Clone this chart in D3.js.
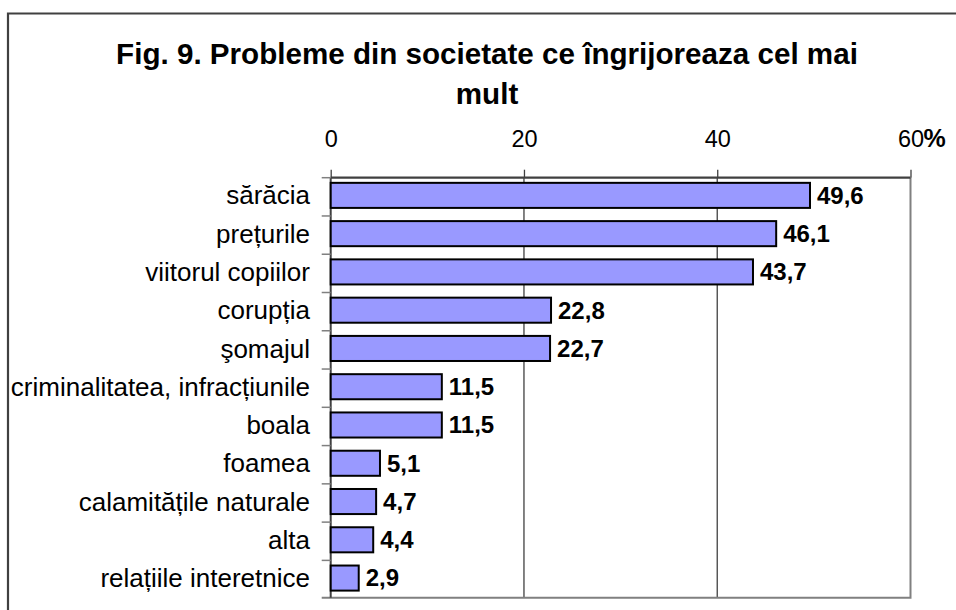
<!DOCTYPE html>
<html lang="ro">
<head>
<meta charset="UTF-8" />
<title>Fig. 9</title>
<script src="https://d3js.org/d3.v7.min.js"></script>
<style>
  body { margin: 0; background: #fff; }
  svg text { font-family: Arial, "Liberation Sans", sans-serif; }
</style>
</head>
<body>
<script>
var w = 956;
var h = 610;

var categories = ["sărăcia", "prețurile", "viitorul copiilor", "corupția", "şomajul",
  "criminalitatea, infracțiunile", "boala", "foamea", "calamitățile naturale", "alta",
  "relațiile interetnice"];
var values = [49.6, 46.1, 43.7, 22.8, 22.7, 11.5, 11.5, 5.1, 4.7, 4.4, 2.9];
var tickValues = [0, 20, 40, 60];
var titleLines = ["Fig. 9. Probleme din societate ce îngrijoreaza cel mai", "mult"];

// plot area edges
var plotLeft = 330.7, plotRight = 910.5, plotTop = 177.7, plotBottom = 597.7;

var svg = d3.select("body").append("svg")
  .attr("width", w)
  .attr("height", h);

// outer chart border (runs off right and bottom)
svg.append("path")
  .attr("d", "M8,620 L8,13.5 L970,13.5")
  .attr("fill", "none")
  .attr("stroke", "#404040")
  .attr("stroke-width", 2.2);

// title
svg.selectAll("text.title")
  .data(titleLines)
  .enter()
  .append("text")
  .attr("class", "title")
  .attr("x", 487)
  .attr("y", function (d, i) { return 63.5 + i * 40; })
  .attr("text-anchor", "middle")
  .attr("font-size", "29.6px")
  .attr("font-weight", "bold")
  .attr("fill", "#000")
  .text(function (d) { return d; });

var xScale = d3.scaleLinear()
  .domain([0, 60])
  .range([plotLeft, plotRight]);

var yScale = d3.scaleBand()
  .domain(categories)
  .range([plotTop, plotBottom])
  .paddingInner(0.345)
  .paddingOuter(0.16)
  .align(0.42);

// vertical gridlines at 20, 40
svg.selectAll("line.grid")
  .data(tickValues.slice(1, 3))
  .enter()
  .append("line")
  .attr("class", "grid")
  .attr("x1", function (d) { return xScale(d); })
  .attr("x2", function (d) { return xScale(d); })
  .attr("y1", plotTop)
  .attr("y2", plotBottom)
  .attr("stroke", "#404040")
  .attr("stroke-width", 1.3);

// plot area right/bottom border
svg.append("path")
  .attr("d", "M" + (plotLeft - 9) + "," + plotBottom + " L" + plotRight + "," + plotBottom + " L" + plotRight + "," + plotTop)
  .attr("fill", "none")
  .attr("stroke", "#808080")
  .attr("stroke-width", 2);

// top value axis
var xAxis = d3.axisTop(xScale)
  .tickValues(tickValues)
  .tickSize(8)
  .tickPadding(23)
  .tickFormat(d3.format("d"));

var gx = svg.append("g")
  .attr("transform", "translate(0," + plotTop + ")")
  .call(xAxis);
gx.select(".domain").attr("stroke", "#404040").attr("stroke-width", 2.2)
  .attr("d", "M" + plotLeft + ",0H" + plotRight);
gx.selectAll(".tick line").attr("stroke", "#404040").attr("stroke-width", 1.3);
gx.selectAll(".tick text")
  .attr("font-size", "23.5px")
  .attr("font-family", "Arial, 'Liberation Sans', sans-serif")
  .attr("fill", "#000");

svg.append("text")
  .attr("x", xScale(60) + 13)
  .attr("y", 146.5)
  .attr("font-size", "25px")
  .attr("font-weight", "bold")
  .attr("fill", "#000")
  .text("%");

// left category axis
svg.append("line")
  .attr("x1", plotLeft).attr("x2", plotLeft)
  .attr("y1", plotTop).attr("y2", plotBottom)
  .attr("stroke", "#404040")
  .attr("stroke-width", 2);

var step = yScale.step();
svg.selectAll("line.ytick")
  .data(d3.range(categories.length))
  .enter()
  .append("line")
  .attr("class", "ytick")
  .attr("x1", plotLeft - 9)
  .attr("x2", plotLeft)
  .attr("y1", function (i) { return plotTop + i * step; })
  .attr("y2", function (i) { return plotTop + i * step; })
  .attr("stroke", "#808080")
  .attr("stroke-width", 1.5);

svg.selectAll("text.cat")
  .data(categories)
  .enter()
  .append("text")
  .attr("class", "cat")
  .attr("x", 310)
  .attr("y", function (d) { return yScale(d) + yScale.bandwidth() / 2; })
  .attr("dy", "0.35em")
  .attr("text-anchor", "end")
  .attr("font-size", "26px")
  .attr("fill", "#000")
  .text(function (d) { return d; });

// bars
svg.selectAll("rect.bar")
  .data(values)
  .enter()
  .append("rect")
  .attr("class", "bar")
  .attr("x", xScale(0))
  .attr("y", function (d, i) { return yScale(categories[i]); })
  .attr("width", function (d) { return xScale(d) - xScale(0); })
  .attr("height", yScale.bandwidth())
  .attr("fill", "#9999FF")
  .attr("stroke", "#000")
  .attr("stroke-width", 2);

// value labels
svg.selectAll("text.val")
  .data(values)
  .enter()
  .append("text")
  .attr("class", "val")
  .attr("x", function (d) { return xScale(d) + 7; })
  .attr("y", function (d, i) { return yScale(categories[i]) + yScale.bandwidth() / 2; })
  .attr("dy", "0.35em")
  .attr("font-size", "24px")
  .attr("font-weight", "bold")
  .attr("fill", "#000")
  .text(function (d) { return String(d.toFixed(1)).replace(".", ","); });
</script>
</body>
</html>
